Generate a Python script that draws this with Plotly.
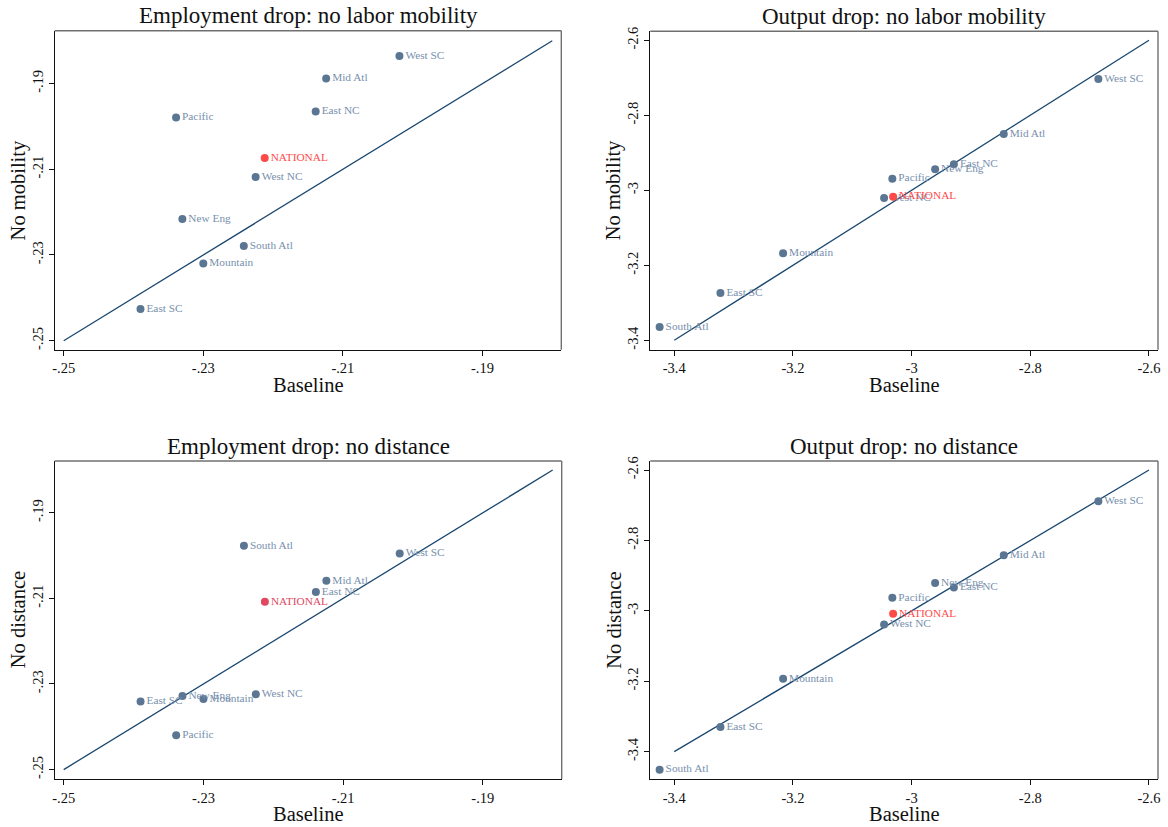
import plotly.graph_objects as go

# Census divisions
regions = ["New Eng", "Mid Atl", "East NC", "West NC", "South Atl",
           "East SC", "West SC", "Mountain", "Pacific"]

# Employment drop (log points)
emp_baseline = [-0.2330, -0.2124, -0.2139, -0.2225, -0.2242, -0.2390, -0.2019, -0.2300, -0.2339]
emp_no_mobility = [-0.2216, -0.1888, -0.1965, -0.2118, -0.2279, -0.2426, -0.1836, -0.2320, -0.1979]
emp_no_distance = [-0.2328, -0.2059, -0.2085, -0.2324, -0.1977, -0.2341, -0.1995, -0.2335, -0.2420]

# Output drop
out_baseline = [-2.9604, -2.8447, -2.9288, -3.0464, -3.4247, -3.3222, -2.6853, -3.2166, -3.0325]
out_no_mobility = [-2.9440, -2.8498, -2.9307, -3.0204, -3.3644, -3.2738, -2.7031, -3.1680, -2.9689]
out_no_distance = [-2.9206, -2.8421, -2.9338, -3.0388, -3.4510, -3.3300, -2.6889, -3.1929, -2.9631]

# National aggregate
national_label = "NATIONAL"
nat_emp_baseline = -0.2212
nat_emp_no_mobility = -0.2074
nat_emp_no_distance = -0.2108
nat_out_baseline = -3.0312
nat_out_no_mobility = -3.0169
nat_out_no_distance = -3.0085

# 45-degree reference line endpoints
emp_diag = [-0.25, -0.18]
out_diag = [-3.4, -2.6]

# Tick marks
emp_ticks = [-0.25, -0.23, -0.21, -0.19]
emp_tick_text = ["-.25", "-.23", "-.21", "-.19"]
out_ticks = [-3.4, -3.2, -3.0, -2.8, -2.6]
out_tick_text = ["-3.4", "-3.2", "-3", "-2.8", "-2.6"]

W, H = 1168, 827
FONT = "Liberation Serif"
MARKER = "#5b7693"
LABEL = "#7890ad"
LINE = "#1a476f"

panels = [
    dict(title="Employment drop: no labor mobility", ytitle="No mobility",
         x=emp_baseline, y=emp_no_mobility, nx=nat_emp_baseline, ny=nat_emp_no_mobility,
         diag=emp_diag, ticks=emp_ticks, ticktext=emp_tick_text,
         xr=[-0.25129, -0.17871], yr=[-0.2521, -0.17767],
         px=(54.7, 561.3), py=(30.7, 349.7), nat_color="#ff4a4a"),
    dict(title="Output drop: no labor mobility", ytitle="No mobility",
         x=out_baseline, y=out_no_mobility, nx=nat_out_baseline, ny=nat_out_no_mobility,
         diag=out_diag, ticks=out_ticks, ticktext=out_tick_text,
         xr=[-3.4404, -2.5848], yr=[-3.425, -2.576],
         px=(650.3, 1158.0), py=(31.3, 349.7), nat_color="#ff4a4a"),
    dict(title="Employment drop: no distance", ytitle="No distance",
         x=emp_baseline, y=emp_no_distance, nx=nat_emp_baseline, ny=nat_emp_no_distance,
         diag=emp_diag, ticks=emp_ticks, ticktext=emp_tick_text,
         xr=[-0.25129, -0.17871], yr=[-0.2522, -0.1779],
         px=(54.7, 561.7), py=(461.0, 779.0), nat_color="#e04862"),
    dict(title="Output drop: no distance", ytitle="No distance",
         x=out_baseline, y=out_no_distance, nx=nat_out_baseline, ny=nat_out_no_distance,
         diag=out_diag, ticks=out_ticks, ticktext=out_tick_text,
         xr=[-3.4404, -2.5848], yr=[-3.4776, -2.5744],
         px=(650.3, 1158.0), py=(461.0, 779.0), nat_color="#ff4a4a"),
]

fig = go.Figure()
annotations = []
shapes = []

for i, p in enumerate(panels, start=1):
    xa = "x" if i == 1 else f"x{i}"
    ya = "y" if i == 1 else f"y{i}"
    xkey = "xaxis" if i == 1 else f"xaxis{i}"
    ykey = "yaxis" if i == 1 else f"yaxis{i}"

    fig.add_trace(go.Scatter(
        x=p["diag"], y=p["diag"], mode="lines",
        line=dict(color=LINE, width=1.3), xaxis=xa, yaxis=ya,
        showlegend=False, hoverinfo="skip"))
    fig.add_trace(go.Scatter(
        x=p["x"], y=p["y"], mode="markers+text", text=regions,
        textposition="middle right",
        textfont=dict(family=FONT, size=11.3, color=LABEL),
        marker=dict(color=MARKER, size=8, line=dict(width=0)),
        xaxis=xa, yaxis=ya, showlegend=False, cliponaxis=False))
    fig.add_trace(go.Scatter(
        x=[p["nx"]], y=[p["ny"]], mode="markers+text", text=[national_label],
        textposition="middle right",
        textfont=dict(family=FONT, size=11.3, color=p["nat_color"]),
        marker=dict(color=p["nat_color"], size=8, line=dict(width=0)),
        xaxis=xa, yaxis=ya, showlegend=False, cliponaxis=False))

    x0, x1 = p["px"]
    y0, y1 = p["py"]
    common = dict(showgrid=False, zeroline=False, showline=True, linecolor="#111",
                  linewidth=1.4, ticks="outside", ticklen=5, tickwidth=1,
                  tickcolor="#111", automargin=False,
                  tickfont=dict(family=FONT, size=14.5, color="#111"))
    fig.layout[xkey] = dict(domain=[x0 / W, x1 / W], anchor=ya, range=p["xr"],
                            tickvals=p["ticks"], ticktext=p["ticktext"], **common)
    fig.layout[ykey] = dict(domain=[1 - y1 / H, 1 - y0 / H], anchor=xa, range=p["yr"],
                            tickvals=p["ticks"], ticktext=p["ticktext"], tickangle=-90,
                            **common)

    # top and right edges of the plot frame
    shapes.append(dict(type="line", xref=f"{xa} domain", yref=f"{ya} domain",
                       x0=0, x1=1, y0=1, y1=1, line=dict(color="#707070", width=1.4)))
    shapes.append(dict(type="line", xref=f"{xa} domain", yref=f"{ya} domain",
                       x0=1, x1=1, y0=0, y1=1, line=dict(color="#707070", width=1.4)))

    cx = (x0 + x1) / 2 / W
    cy = 1 - (y0 + y1) / 2 / H
    annotations.append(dict(text=p["title"], xref="paper", yref="paper",
                            x=cx, y=1 - (y0 - 15) / H, xanchor="center", yanchor="middle",
                            showarrow=False, font=dict(family=FONT, size=23, color="#111")))
    annotations.append(dict(text="Baseline", xref="paper", yref="paper",
                            x=cx, y=1 - (y1 + 35) / H, xanchor="center", yanchor="middle",
                            showarrow=False, font=dict(family=FONT, size=20.5, color="#111")))
    annotations.append(dict(text=p["ytitle"], xref="paper", yref="paper",
                            x=(x0 - 36.5) / W, y=cy, xanchor="center", yanchor="middle",
                            textangle=-90, showarrow=False,
                            font=dict(family=FONT, size=20.5, color="#111")))

fig.update_layout(
    width=W, height=H, autosize=False,
    margin=dict(l=0, r=0, t=0, b=0),
    paper_bgcolor="white", plot_bgcolor="white",
    annotations=annotations, shapes=shapes,
    font=dict(family=FONT),
)

fig.write_html("out.html")
